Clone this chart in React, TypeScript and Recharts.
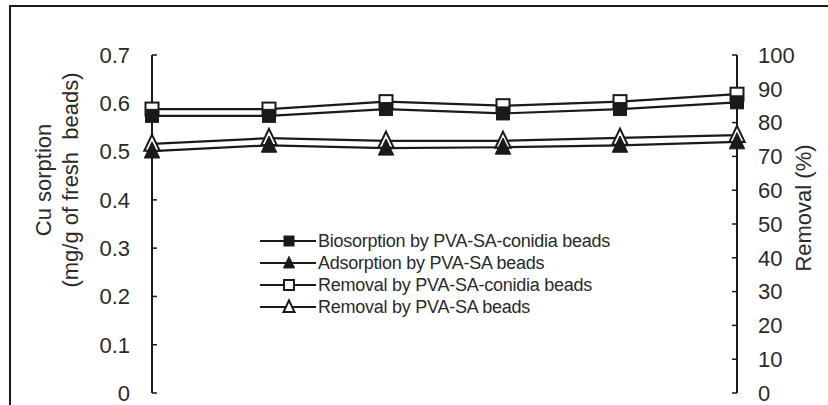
import React from 'react';
import { LineChart, Line, XAxis, YAxis, Legend } from 'recharts';

const categories = ['1', '2', '3', '4', '5', '6'];
const biosorption = [0.574, 0.574, 0.588, 0.579, 0.588, 0.602];
const adsorption = [0.501, 0.513, 0.507, 0.509, 0.513, 0.52];
const removalConidia = [84.0, 84.0, 86.2, 85.0, 86.2, 88.4];
const removalPvaSa = [73.7, 75.4, 74.6, 74.6, 75.5, 76.3];
const leftTicks = [0, 0.1, 0.2, 0.3, 0.4, 0.5, 0.6, 0.7];
const rightTicks = [0, 10, 20, 30, 40, 50, 60, 70, 80, 90, 100];
const seriesNames = [
  'Biosorption by PVA-SA-conidia beads',
  'Adsorption by PVA-SA beads',
  'Removal by PVA-SA-conidia beads',
  'Removal by PVA-SA beads',
];
const seriesShapes = ['filledSquare', 'filledTriangle', 'openSquare', 'openTriangle'];
const leftTitle = ['Cu sorption', '(mg/g of fresh  beads)'];
const rightTitle = 'Removal (%)';

const data = categories.map((c, i) => ({
  cat: c,
  bio: biosorption[i],
  ads: adsorption[i],
  remC: removalConidia[i],
  remP: removalPvaSa[i],
}));

const INK = '#1a1a1a';
const FONT = '"Liberation Sans", Arial, Helvetica, sans-serif';

function marker(shape: string, cx: number, cy: number, s: number, key?: string) {
  const filled = shape.startsWith('filled');
  const fill = filled ? INK : '#fff';
  if (shape.endsWith('Square')) {
    return (
      <rect key={key} x={cx - s / 2} y={cy - s / 2} width={s} height={s} fill={fill} stroke={INK} strokeWidth={filled ? 1 : 2} />
    );
  }
  const h = s * 1.1;
  const w = s * 0.55;
  return (
    <path
      key={key}
      d={`M${cx},${cy - h * 0.6} L${cx + w},${cy + h * 0.45} L${cx - w},${cy + h * 0.45} Z`}
      fill={fill}
      stroke={INK}
      strokeWidth={filled ? 1 : 2}
      strokeLinejoin="miter"
    />
  );
}

const makeDot = (shape: string, size: number) => (p: any) =>
  marker(shape, p.cx, p.cy, size, `${shape}-${p.index}`);

const LeftLabel = (props: any) => {
  const vb = props.viewBox || { x: 0, y: 55, width: 152, height: 338 };
  const cy = vb.y + vb.height / 2 - 44;
  return (
    <g>
      <text x={43} y={cy} transform={`rotate(-90, 43, ${cy})`} textAnchor="middle" dominantBaseline="central" fontSize={22} fill="#2a2a2a" fontFamily={FONT}>
        {leftTitle[0]}
      </text>
      <text x={70} y={cy} transform={`rotate(-90, 70, ${cy})`} textAnchor="middle" dominantBaseline="central" fontSize={22} fill="#2a2a2a" fontFamily={FONT} style={{ whiteSpace: 'pre' }}>
        {leftTitle[1]}
      </text>
    </g>
  );
};

const RightLabel = (props: any) => {
  const vb = props.viewBox || { x: 737, y: 55, width: 91, height: 338 };
  const cy = vb.y + vb.height / 2 - 16;
  const cx = 803;
  return (
    <text x={cx} y={cy} transform={`rotate(-90, ${cx}, ${cy})`} textAnchor="middle" dominantBaseline="central" fontSize={22} fill="#2a2a2a" fontFamily={FONT}>
      {rightTitle}
    </text>
  );
};

const renderLegend = () => (
  <div style={{ fontFamily: FONT }}>
    {seriesNames.map((name, i) => (
      <div key={name} style={{ display: 'flex', alignItems: 'center', height: 22 }}>
        <svg width={58} height={22} style={{ display: 'block' }}>
          <line x1={0} y1={11} x2={56} y2={11} stroke={INK} strokeWidth={2} />
          {marker(seriesShapes[i], 29, 11, 10)}
        </svg>
        <span style={{ fontSize: 18, letterSpacing: -0.25, color: '#2a2a2a', whiteSpace: 'nowrap', lineHeight: '22px' }}>{name}</span>
      </div>
    ))}
  </div>
);

const tickStyle = { fontSize: 22, fill: '#2a2a2a', fontFamily: FONT };

export default function App() {
  return (
    <div style={{ position: 'absolute', left: 0, top: 0, width: 828, height: 405, overflow: 'hidden', background: '#fff' }}>
      <div style={{ position: 'absolute', left: 9, top: 5, width: 1000, height: 1000, borderTop: `2px solid ${INK}`, borderLeft: `2px solid ${INK}` }} />
      <div style={{ position: 'absolute', left: 0, top: 0 }}>
        <LineChart width={828} height={405} data={data} margin={{ top: 55, right: 0, bottom: 12, left: 0 }}>
          <XAxis
            xAxisId="b"
            dataKey="cat"
            height={0}
            tick={false}
            tickSize={-5}
            interval={0}
            axisLine={{ stroke: INK, strokeWidth: 2 }}
            tickLine={{ stroke: INK, strokeWidth: 1.5 }}
          />
          <XAxis
            xAxisId="t"
            orientation="top"
            dataKey="cat"
            height={0}
            tick={false}
            tickLine={false}
            axisLine={{ stroke: INK, strokeWidth: 2 }}
          />
          <YAxis
            yAxisId="l"
            width={152}
            domain={[0, 0.7]}
            ticks={leftTicks}
            interval={0}
            tickSize={-5}
            tickMargin={27}
            tick={tickStyle}
            axisLine={{ stroke: INK, strokeWidth: 2 }}
            tickLine={{ stroke: INK, strokeWidth: 1.5 }}
            label={LeftLabel}
          />
          <YAxis
            yAxisId="r"
            orientation="right"
            width={91}
            domain={[0, 100]}
            ticks={rightTicks}
            interval={0}
            tickSize={-5}
            tickMargin={26}
            tick={tickStyle}
            axisLine={{ stroke: INK, strokeWidth: 2 }}
            tickLine={{ stroke: INK, strokeWidth: 1.5 }}
            label={RightLabel}
          />
          <Legend
            layout="vertical"
            align="center"
            verticalAlign="middle"
            wrapperStyle={{ left: 260, top: 230, width: 400 }}
            content={renderLegend}
          />
          <Line xAxisId="b" yAxisId="r" dataKey="remC" name={seriesNames[2]} stroke={INK} strokeWidth={2.2} dot={makeDot('openSquare', 13)} isAnimationActive={false} />
          <Line xAxisId="b" yAxisId="r" dataKey="remP" name={seriesNames[3]} stroke={INK} strokeWidth={2.2} dot={makeDot('openTriangle', 14)} isAnimationActive={false} />
          <Line xAxisId="b" yAxisId="l" dataKey="bio" name={seriesNames[0]} stroke={INK} strokeWidth={2.2} dot={makeDot('filledSquare', 13)} isAnimationActive={false} />
          <Line xAxisId="b" yAxisId="l" dataKey="ads" name={seriesNames[1]} stroke={INK} strokeWidth={2.2} dot={makeDot('filledTriangle', 14)} isAnimationActive={false} />
        </LineChart>
      </div>
    </div>
  );
}
